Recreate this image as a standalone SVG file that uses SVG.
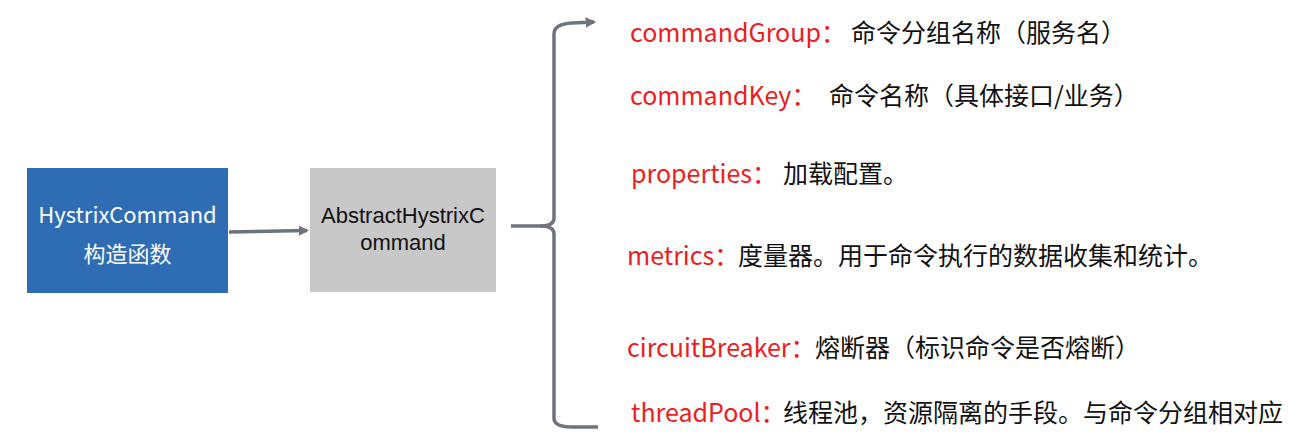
<svg xmlns="http://www.w3.org/2000/svg" width="1307" height="442" viewBox="0 0 1307 442">
<style>
text{font-family:"Noto Sans CJK SC","Noto Sans",sans-serif;}
.lbl{font-size:25px;fill:#ee1c1c;}
.desc{fill:#111;}
.box{font-size:22px;text-anchor:middle;}
.lat{font-family:"Liberation Sans",Arial,sans-serif;}
.conn{fill:none;stroke:#6f737b;stroke-width:3.5;}
</style>
<defs>
<marker id="ah" viewBox="0 0 10 10" refX="8" refY="5" markerWidth="3" markerHeight="3" orient="auto" markerUnits="strokeWidth">
<path d="M0,0 L10,5 L0,10 z" fill="#6f737b"/>
</marker>
</defs>
<rect width="1307" height="442" fill="#fff"/>
<g id="node-hystrixcommand">
<rect x="27" y="168" width="201" height="125" fill="#2e6db4"/>
<text class="box" x="127.5" y="223" fill="#fff">HystrixCommand</text>
<text class="box" x="127.5" y="262" fill="#fff">构造函数</text>
</g>
<g id="node-abstract">
<rect x="310" y="168" width="186" height="124" fill="#c8c8c8"/>
<text class="box lat" x="403" y="223" fill="#111">AbstractHystrixC</text>
<text class="box lat" x="403" y="250" fill="#111">ommand</text>
</g>
<g id="connectors">
<path class="conn" d="M229,232 L307,230.5" marker-end="url(#ah)"/>
<path class="conn" d="M511,226 L540,226 Q553,226 554,219 L554,34 Q554,24 572,23 L594,22" marker-end="url(#ah)"/>
<path class="conn" d="M540,226 Q553,226 554,233 L554,418 Q554,427 572,427 L598,427"/>
</g>
<g id="items">
<text class="lbl" x="630" y="42">commandGroup：<tspan class="desc" x="851">命令分组名称（服务名）</tspan></text>
<text class="lbl" x="630" y="105">commandKey：<tspan class="desc" x="829">命令名称（具体接口/业务）</tspan></text>
<text class="lbl" x="631" y="183">properties：<tspan class="desc" x="783">加载配置。</tspan></text>
<text class="lbl" x="627" y="265">metrics：<tspan class="desc" x="738">度量器。用于命令执行的数据收集和统计。</tspan></text>
<text class="lbl" x="627" y="357">circuitBreaker：<tspan class="desc" x="815">熔断器（标识命令是否熔断）</tspan></text>
<text class="lbl" x="631" y="422">threadPool：<tspan class="desc" x="783">线程池，资源隔离的手段。与命令分组相对应</tspan></text>
</g>
</svg>
